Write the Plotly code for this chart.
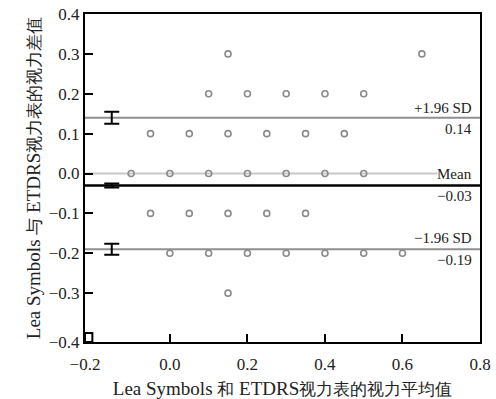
import plotly.graph_objects as go

# ---- data ----
mean_x = [0.15, 0.65,
          0.1, 0.2, 0.3, 0.4, 0.5,
          -0.05, 0.05, 0.15, 0.25, 0.35, 0.45,
          -0.1, 0.0, 0.1, 0.2, 0.3, 0.4, 0.5,
          -0.05, 0.05, 0.15, 0.25, 0.35,
          0.0, 0.1, 0.2, 0.3, 0.4, 0.5, 0.6,
          0.15]
diff_y = [0.3, 0.3,
          0.2, 0.2, 0.2, 0.2, 0.2,
          0.1, 0.1, 0.1, 0.1, 0.1, 0.1,
          0.0, 0.0, 0.0, 0.0, 0.0, 0.0, 0.0,
          -0.1, -0.1, -0.1, -0.1, -0.1,
          -0.2, -0.2, -0.2, -0.2, -0.2, -0.2, -0.2,
          -0.3]

limit_values = [0.14, -0.03, -0.19]          # +1.96 SD, mean, -1.96 SD
limit_ci = [0.015, 0.005, 0.014]             # CI half-widths (error bars)
ci_x = -0.15

x_range = [-0.219, 0.8]
y_range = [-0.4225, 0.4]
x_tickvals = [-0.219, 0.0, 0.2, 0.4, 0.6, 0.8]
x_ticktext = ["\u22120.2", "0.0", "0.2", "0.4", "0.6", "0.8"]
y_tickvals = [-0.4225, -0.3, -0.2, -0.1, 0.0, 0.1, 0.2, 0.3, 0.4]
y_ticktext = ["\u22120.4", "\u22120.3", "\u22120.2", "\u22120.1", "0.0", "0.1", "0.2", "0.3", "0.4"]

x_title = '<span style="font-size:19px">Lea Symbols </span>和<span style="font-size:19px"> ETDRS</span>视力表的视力平均值'
y_title = '<span style="font-size:19px">Lea Symbols </span>与<span style="font-size:19px"> ETDRS</span>视力表的视力差值'

SERIF = "Liberation Serif"

fig = go.Figure()

# zero reference line (light grey), stops before "Mean" label
fig.add_shape(type="line", xref="x", yref="y", x0=x_range[0], x1=0.69, y0=0, y1=0,
              line=dict(color="#c8c8c8", width=2), layer="below")
# +/-1.96 SD lines
for v in (limit_values[0], limit_values[2]):
    fig.add_shape(type="line", xref="paper", yref="y", x0=0, x1=1, y0=v, y1=v,
                  line=dict(color="#8f8f8f", width=2), layer="below")
# mean line
fig.add_shape(type="line", xref="paper", yref="y", x0=0, x1=1,
              y0=limit_values[1], y1=limit_values[1],
              line=dict(color="black", width=2.5), layer="below")
# the small tick box at the lower-left corner (ticks at -0.2 / -0.4)
fig.add_shape(type="rect", xref="x", yref="y", x0=x_range[0], x1=-0.2,
              y0=y_range[0], y1=-0.4, line=dict(color="black", width=2))

fig.add_trace(go.Scatter(
    x=mean_x, y=diff_y, mode="markers",
    marker=dict(symbol="circle-open", size=6, color="#8a8a8a", line=dict(width=1.6)),
    showlegend=False, hoverinfo="skip"))

fig.add_trace(go.Scatter(
    x=[ci_x] * len(limit_values), y=limit_values, mode="markers",
    marker=dict(size=1, color="black"),
    error_y=dict(type="data", array=limit_ci, visible=True, color="black",
                 thickness=2, width=7.5),
    showlegend=False, hoverinfo="skip"))

ann_font = dict(family=SERIF, size=15, color="#222")
labels = [
    ("+1.96 SD", limit_values[0], "bottom", 0),
    (f"{limit_values[0]:.2f}", limit_values[0], "top", -1),
    ("Mean", 0.0, "middle", 0),
    (f"{limit_values[1]:.2f}".replace("-", "\u2212"), limit_values[1], "top", -1),
    ("\u22121.96 SD", limit_values[2], "bottom", 1),
    (f"{limit_values[2]:.2f}".replace("-", "\u2212"), limit_values[2], "top", -1),
]
for text, yv, anchor, ys in labels:
    fig.add_annotation(x=1, xref="paper", y=yv, yref="y", text=text, showarrow=False,
                       xanchor="right", yanchor=anchor, xshift=-6, yshift=ys,
                       font=ann_font)

axis_common = dict(showline=True, linewidth=2, linecolor="black", mirror=True,
                   ticks="inside", ticklen=8, tickwidth=2, tickcolor="black",
                   showgrid=False, zeroline=False, automargin=False,
                   tickfont=dict(family=SERIF, size=17, color="#222"))

fig.update_layout(
    width=496, height=399,
    margin=dict(l=85, r=16, t=14, b=57),
    paper_bgcolor="white", plot_bgcolor="white",
    xaxis=dict(range=x_range, tickvals=x_tickvals, ticktext=x_ticktext,
               ticklabelstandoff=6,
               title=dict(text=x_title, font=dict(family=SERIF, size=16.5, color="#222"), standoff=12),
               **axis_common),
    yaxis=dict(range=y_range, tickvals=y_tickvals, ticktext=y_ticktext,
               title=dict(text=y_title, font=dict(family=SERIF, size=16.5, color="#222"), standoff=4),
               **axis_common),
)

fig.write_html("out.html")
